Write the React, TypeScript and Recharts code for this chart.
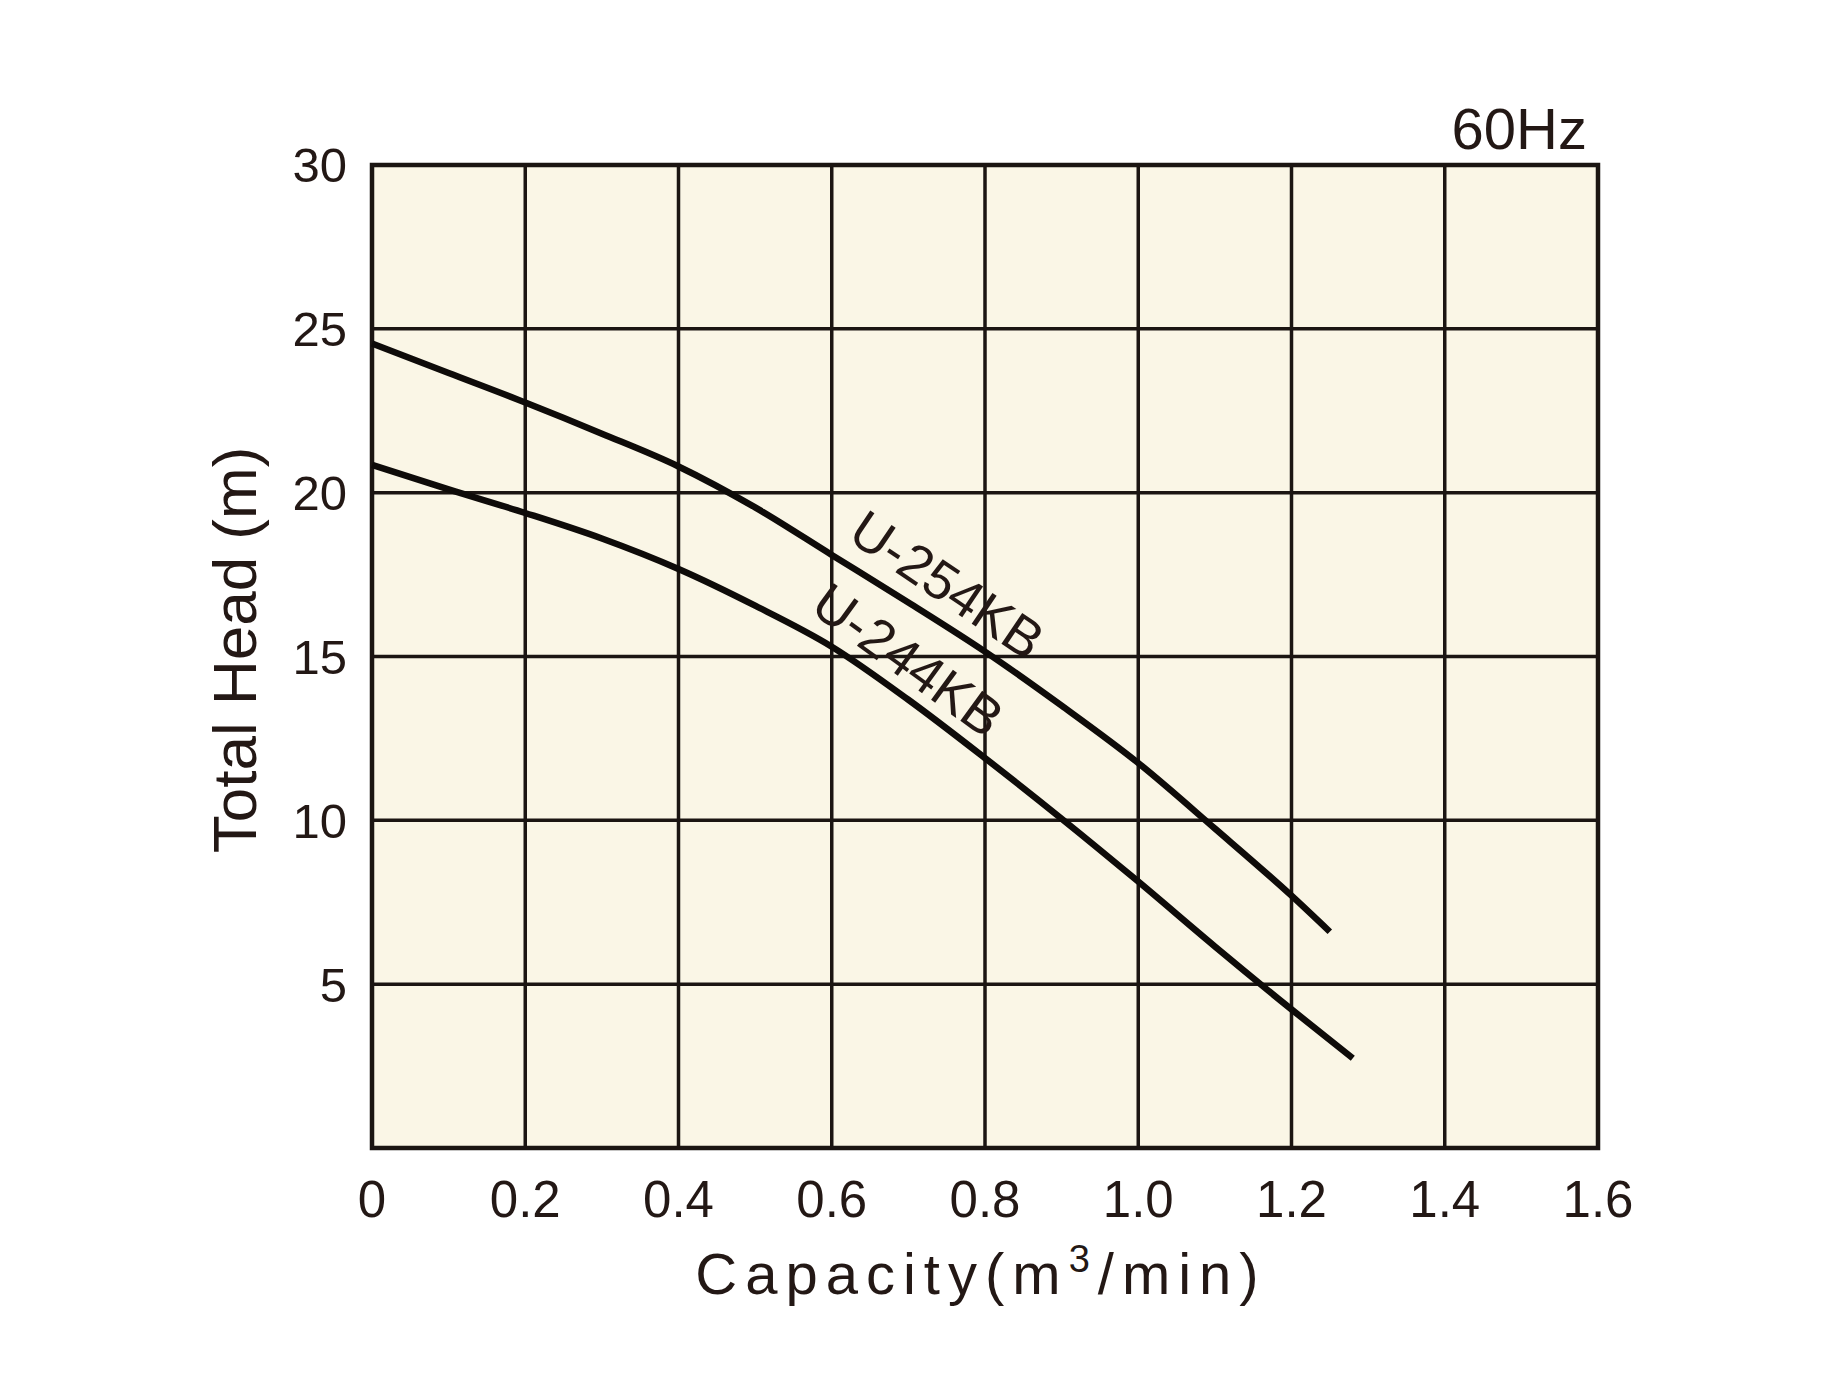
import React from 'react'
import {
  LineChart,
  Line,
  XAxis,
  YAxis,
  CartesianGrid,
  ReferenceArea,
  ReferenceDot,
} from 'recharts'

// axis ticks
const capacityTicks = [0, 0.2, 0.4, 0.6, 0.8, 1.0, 1.2, 1.4, 1.6]
const headTicks = [0, 5, 10, 15, 20, 25, 30]

// U-254KB curve (capacity m3/min -> total head m)
const q254 = [0, 0.1, 0.2, 0.3, 0.4, 0.5, 0.6, 0.7, 0.8, 0.9, 1.0, 1.1, 1.2, 1.25]
const h254 = [24.55, 23.65, 22.75, 21.8, 20.8, 19.55, 18.1, 16.65, 15.15, 13.5, 11.75, 9.75, 7.7, 6.6]

// U-244KB curve
const q244 = [0, 0.1, 0.2, 0.3, 0.4, 0.5, 0.6, 0.7, 0.8, 0.9, 1.0, 1.1, 1.2, 1.28]
const h244 = [20.85, 20.1, 19.38, 18.6, 17.67, 16.55, 15.3, 13.68, 11.9, 10.05, 8.13, 6.15, 4.23, 2.74]

const modelNames = ['U-254KB', 'U-244KB']

const toRows = (qs: number[], hs: number[]) => qs.map((q, i) => ({ q, h: hs[i] }))

const INK = '#231815'
const LINE = '#0e0b09'
const FONT = '"Liberation Sans", Arial, sans-serif'

const curveText = (name: string, angle: number) => (props: any) => (
  <text
    x={props.cx}
    y={props.cy}
    transform={`rotate(${angle} ${props.cx} ${props.cy})`}
    textAnchor="middle"
    dominantBaseline="central"
    fontSize={54}
    fontFamily={FONT}
    fill={INK}
  >
    {name}
  </text>
)

const App: React.FC = () => {
  const data254 = toRows(q254, h254)
  const data244 = toRows(q244, h244)

  return (
    <div style={{ position: 'relative', width: 1810, height: 1365 }}>
      <LineChart
        width={1810}
        height={1365}
        margin={{ top: 157, right: 220, bottom: 125, left: 0 }}
      >
        <CartesianGrid
          stroke="#1b1512"
          strokeWidth={3.5}
          fill="#FAF6E6"
          fillOpacity={1}
        />
        <XAxis
          type="number"
          dataKey="q"
          domain={[0, 1.6]}
          ticks={capacityTicks}
          interval={0}
          tickFormatter={(v: number) => (v === 0 ? '0' : v.toFixed(1))}
          axisLine={false}
          tickLine={false}
          tickSize={0}
          tickMargin={33}
          height={100}
          tick={{ fontSize: 51, fill: INK, fontFamily: FONT }}
        />
        <YAxis
          type="number"
          domain={[0, 30]}
          ticks={headTicks}
          interval={0}
          tickFormatter={(v: number) => (v === 0 ? '' : String(v))}
          axisLine={false}
          tickLine={false}
          tickSize={0}
          tickMargin={25}
          width={364}
          tick={{ fontSize: 49, fill: INK, fontFamily: FONT }}
        />
        <ReferenceArea
          x1={0}
          x2={1.6}
          y1={0}
          y2={30}
          fill="none"
          stroke="#1b1512"
          strokeWidth={4.5}
          strokeOpacity={1}
        />
        <Line
          data={data254}
          dataKey="h"
          type="monotone"
          stroke={LINE}
          strokeWidth={6.5}
          dot={false}
          activeDot={false}
          isAnimationActive={false}
        />
        <Line
          data={data244}
          dataKey="h"
          type="monotone"
          stroke={LINE}
          strokeWidth={6.5}
          dot={false}
          activeDot={false}
          isAnimationActive={false}
        />
        <ReferenceDot x={0.751} y={17.2} shape={curveText(modelNames[0], 34)} />
        <ReferenceDot x={0.7} y={14.9} shape={curveText(modelNames[1], 36)} />
      </LineChart>
      <svg
        width={1810}
        height={1365}
        style={{ position: 'absolute', left: 0, top: 0, pointerEvents: 'none' }}
      >
        <text x={1579} y={141} textAnchor="end" fontSize={58} fontFamily={FONT} fill={INK}>
          60Hz
        </text>
        <text
          x={973}
          y={1286}
          textAnchor="middle"
          fontSize={58}
          fontFamily={FONT}
          fill={INK}
          letterSpacing={8}
        >
          Capacity(m
          <tspan fontSize={38} dy={-22}>3</tspan>
          <tspan dy={22}>/min)</tspan>
        </text>
        <text
          transform="translate(248,642) rotate(-90)"
          textAnchor="middle"
          fontSize={62}
          fontFamily={FONT}
          fill={INK}
        >
          Total Head (m)
        </text>
      </svg>
    </div>
  )
}

export default App
